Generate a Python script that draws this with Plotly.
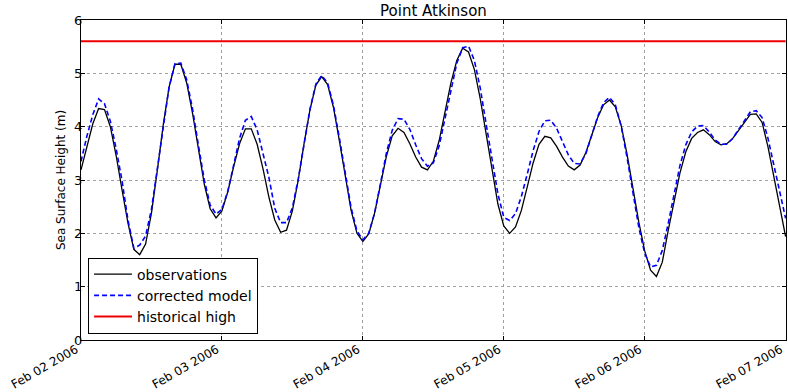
import pandas as pd
import plotly.graph_objects as go

# ---- data (hourly, starting 2006-02-02 00:00) ----
start_time = "2006-02-02 00:00"
n_hours = 121

observations = [
    3.19, 3.65, 4.05, 4.34, 4.32, 4.00, 3.45, 2.81, 2.19, 1.70,
    1.60, 1.80, 2.38, 3.18, 4.03, 4.74, 5.17, 5.17, 4.82, 4.25,
    3.57, 2.92, 2.46, 2.29, 2.42, 2.78, 3.25, 3.68, 3.96, 3.96,
    3.67, 3.21, 2.68, 2.25, 2.02, 2.06, 2.42, 3.00, 3.69, 4.32,
    4.78, 4.94, 4.79, 4.36, 3.74, 3.05, 2.43, 2.00, 1.85, 1.99,
    2.38, 2.91, 3.44, 3.83, 3.97, 3.89, 3.68, 3.43, 3.24, 3.19,
    3.35, 3.74, 4.27, 4.82, 5.24, 5.47, 5.40, 5.07, 4.52, 3.84,
    3.15, 2.55, 2.14, 2.00, 2.12, 2.43, 2.87, 3.32, 3.67, 3.82,
    3.79, 3.63, 3.43, 3.26, 3.19, 3.28, 3.52, 3.85, 4.17, 4.41,
    4.50, 4.37, 4.02, 3.48, 2.85, 2.21, 1.67, 1.31, 1.19, 1.46,
    2.05, 2.62, 3.13, 3.53, 3.78, 3.89, 3.94, 3.85, 3.72, 3.66,
    3.68, 3.78, 3.93, 4.09, 4.23, 4.24, 4.08, 3.62, 3.03, 2.50,
    1.94,
]

corrected_model = [
    3.35, 3.82, 4.22, 4.52, 4.43, 4.10, 3.58, 2.98, 2.25, 1.72,
    1.78, 1.95, 2.45, 3.20, 4.03, 4.74, 5.18, 5.19, 4.88, 4.33,
    3.65, 3.00, 2.53, 2.36, 2.45, 2.79, 3.28, 3.78, 4.12, 4.19,
    3.94, 3.51, 3.05, 2.47, 2.20, 2.20, 2.48, 3.02, 3.69, 4.33,
    4.80, 4.96, 4.82, 4.40, 3.79, 3.10, 2.48, 2.04, 1.88, 2.00,
    2.38, 2.93, 3.50, 3.93, 4.15, 4.14, 3.95, 3.66, 3.40, 3.26,
    3.32, 3.64, 4.14, 4.70, 5.19, 5.48, 5.51, 5.24, 4.72, 4.05,
    3.35, 2.74, 2.30, 2.24, 2.37, 2.69, 3.11, 3.55, 3.91, 4.11,
    4.12, 3.97, 3.72, 3.47, 3.31, 3.30, 3.50, 3.85, 4.19, 4.45,
    4.55, 4.41, 4.01, 3.42, 2.75, 2.11, 1.63, 1.37, 1.40, 1.68,
    2.18, 2.75, 3.27, 3.66, 3.90, 4.01, 4.02, 3.90, 3.75, 3.67,
    3.67, 3.78, 3.94, 4.12, 4.28, 4.30, 4.17, 3.78, 3.28, 2.75,
    2.28,
]

historical_high = 5.6

tick_dates = ["2006-02-02", "2006-02-03", "2006-02-04",
              "2006-02-05", "2006-02-06", "2006-02-07"]
tick_labels = ["Feb 02 2006", "Feb 03 2006", "Feb 04 2006",
               "Feb 05 2006", "Feb 06 2006", "Feb 07 2006"]
y_ticks = [0, 1, 2, 3, 4, 5, 6]

times = pd.date_range(start_time, periods=n_hours, freq="h")

fig = go.Figure()
fig.add_trace(go.Scatter(
    x=times, y=observations, mode="lines", name="observations",
    line=dict(color="black", width=1.3),
))
fig.add_trace(go.Scatter(
    x=times, y=corrected_model, mode="lines", name="corrected model",
    line=dict(color="#0000ff", width=1.6, dash="5px,3px"),
))
fig.add_trace(go.Scatter(
    x=[times[0], times[-1]], y=[historical_high, historical_high],
    mode="lines", name="historical high",
    line=dict(color="#ee0000", width=2),
))

axis_common = dict(
    showline=True, linecolor="black", linewidth=1, mirror="ticks",
    ticks="inside", ticklen=4, tickcolor="black",
    showgrid=True, gridcolor="#a0a0a0", griddash="dot", gridwidth=1,
    zeroline=False, automargin=False,
)

fig.update_xaxes(
    type="date", range=["2006-02-02 00:00", "2006-02-07 00:04"],
    tickvals=tick_dates, ticktext=tick_labels, tickangle=-30,
    ticklabelstandoff=-3, ticklabelshift=-5, ticklabeloverflow="allow",
    tickfont=dict(family="DejaVu Sans", size=12, color="black"),
    **axis_common,
)
fig.update_yaxes(
    range=[0, 6], tickvals=y_ticks, ticklabelstandoff=-5,
    tickfont=dict(family="DejaVu Sans", size=13, color="black"),
    title=dict(text="Sea Surface Height (m)", standoff=5,
               font=dict(family="DejaVu Sans", size=12, color="black")),
    **axis_common,
)

fig.update_layout(
    template="none",
    width=788, height=392,
    margin=dict(l=81, r=2, t=20, b=52, autoexpand=False),
    paper_bgcolor="white", plot_bgcolor="white",
    font=dict(family="DejaVu Sans", color="black"),
    title=dict(text="Point Atkinson", x=0.5, xref="paper",
               y=0.972, yref="container", yanchor="middle",
               font=dict(family="DejaVu Sans", size=15, color="black")),
    legend=dict(x=0.01, y=0.02, xanchor="left", yanchor="bottom",
                bgcolor="white", bordercolor="black", borderwidth=1,
                font=dict(family="DejaVu Sans", size=14, color="black"),
                tracegroupgap=0, itemwidth=38),
    showlegend=True,
)

fig.write_html(
    "out.html",
    config={"displayModeBar": False},
    post_script="document.body.style.margin='0px';"
                "document.body.style.overflow='hidden';",
)
